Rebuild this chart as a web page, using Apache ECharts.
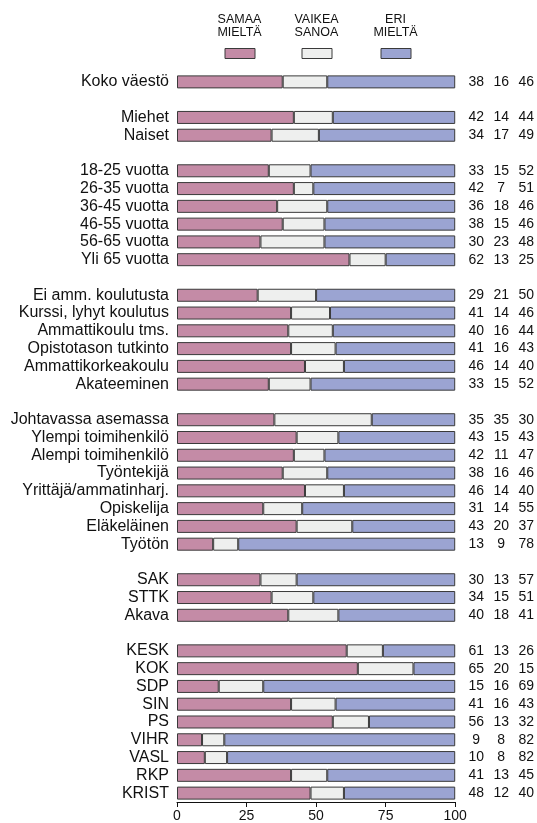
<!DOCTYPE html>
<html>
<head>
<meta charset="utf-8">
<script src="https://cdn.jsdelivr.net/npm/echarts@6/dist/echarts.min.js"></script>
<style>
html,body{margin:0;padding:0;background:#fff;}
#chart{width:537px;height:823px;}
</style>
</head>
<body>
<div id="chart"></div>
<script>
// Row labels ('' = spacer row between groups)
const categories = ['Koko väestö','',
  'Miehet','Naiset','',
  '18-25 vuotta','26-35 vuotta','36-45 vuotta','46-55 vuotta','56-65 vuotta','Yli 65 vuotta','',
  'Ei amm. koulutusta','Kurssi, lyhyt koulutus','Ammattikoulu tms.','Opistotason tutkinto','Ammattikorkeakoulu','Akateeminen','',
  'Johtavassa asemassa','Ylempi toimihenkilö','Alempi toimihenkilö','Työntekijä','Yrittäjä/ammatinharj.','Opiskelija','Eläkeläinen','Työtön','',
  'SAK','STTK','Akava','',
  'KESK','KOK','SDP','SIN','PS','VIHR','VASL','RKP','KRIST'];

// Printed percentages
const samaa  = [38,null,42,34,null,33,42,36,38,30,62,null,29,41,40,41,46,33,null,35,43,42,38,46,31,43,13,null,30,34,40,null,61,65,15,41,56,9,10,41,48];
const vaikea = [16,null,14,17,null,15,7,18,15,23,13,null,21,14,16,16,14,15,null,35,15,11,16,14,14,20,9,null,13,15,18,null,13,20,16,16,13,8,8,13,12];
const eri    = [46,null,44,49,null,52,51,46,46,48,25,null,50,46,44,43,40,52,null,30,43,47,46,40,55,37,78,null,57,51,41,null,26,15,69,43,32,82,82,45,40];
// Drawn length of the "eri mieltä" segment
const eriBar = [46,null,44,49,null,52,51,46,47,47,25,null,50,45,44,43,40,52,null,30,42,47,46,40,55,37,78,null,57,51,42,null,26,15,69,43,31,83,82,46,40];

const seriesNames = ['SAMAA MIELTÄ','VAIKEA SANOA','ERI MIELTÄ'];
const legendText = ['SAMAA\nMIELTÄ','VAIKEA\nSANOA','ERI\nMIELTÄ'];
const xTicks = [0,25,50,75,100];

const colors = ['#C48BA6','#EEEFEE','#9BA4D2'];
const border = '#3a3a3a';
const FONT = 'Liberation Sans, Arial, sans-serif';

const axisCats = categories.map((c,i)=> c === '' ? ' '.repeat(i) : c);

const chart = echarts.init(document.getElementById('chart'), null, {renderer:'canvas'});

function mkSeries(name, data, color){
  return {
    name, type:'bar', stack:'total', data: data.map(v => v == null ? '-' : v),
    barWidth: 13, clip: true,
    itemStyle:{color, borderColor:border, borderWidth:1},
    emphasis:{disabled:true}, animation:false
  };
}

const legendCenters = [239.5, 316.5, 395.5];
const numStyle = {width:25, align:'center', fontSize:14, color:'#111', fontFamily:FONT};

const option = {
  animation:false,
  textStyle:{fontFamily:FONT},
  grid:{left:177, right:81, top:73, bottom:20.5, containLabel:false},
  legend: seriesNames.map((n,i)=>({
    data:[n], left: legendCenters[i]-15, top:48, itemWidth:30, itemHeight:10, itemGap:0,
    icon:'rect', formatter:()=>'', selectedMode:false, padding:0,
    itemStyle:{borderColor:border, borderWidth:1},
    textStyle:{fontSize:1}
  })),
  graphic: legendText.map((t,i)=>({
    type:'text', x:legendCenters[i], y:13,
    style:{text:t, textAlign:'center', textVerticalAlign:'top', fontSize:12.5, fontFamily:FONT, fill:'#111', lineHeight:13}
  })),
  xAxis:{
    type:'value', min:0, max:100, interval:25,
    axisLine:{show:true, lineStyle:{color:'#111', width:1}},
    axisTick:{show:true, length:5, lineStyle:{color:'#111'}},
    splitLine:{show:false},
    axisLabel:{color:'#111', fontSize:14, margin:7, fontFamily:FONT,
      formatter: v => xTicks.includes(v) ? String(v) : ''}
  },
  yAxis:[
    {
      type:'category', data:axisCats, inverse:true,
      axisLine:{show:false}, axisTick:{show:false}, splitLine:{show:false},
      axisLabel:{color:'#111', fontSize:16, margin:8, fontFamily:FONT, interval:0,
        formatter:(v,i)=> categories[i]}
    },
    {
      type:'category', data:axisCats, inverse:true, position:'right',
      axisLine:{show:false}, axisTick:{show:false}, splitLine:{show:false},
      axisLabel:{interval:0, margin:8.5, align:'left', fontSize:14, color:'#111', fontFamily:FONT,
        formatter:(v,i)=> samaa[i]==null ? '' : `{a|${samaa[i]}}{b|${vaikea[i]}}{c|${eri[i]}}`,
        rich:{ a:numStyle, b:numStyle, c:numStyle }
      }
    }
  ],
  series:[
    mkSeries(seriesNames[0], samaa, colors[0]),
    mkSeries(seriesNames[1], vaikea, colors[1]),
    mkSeries(seriesNames[2], eriBar, colors[2])
  ]
};
chart.setOption(option);
</script>
</body>
</html>
